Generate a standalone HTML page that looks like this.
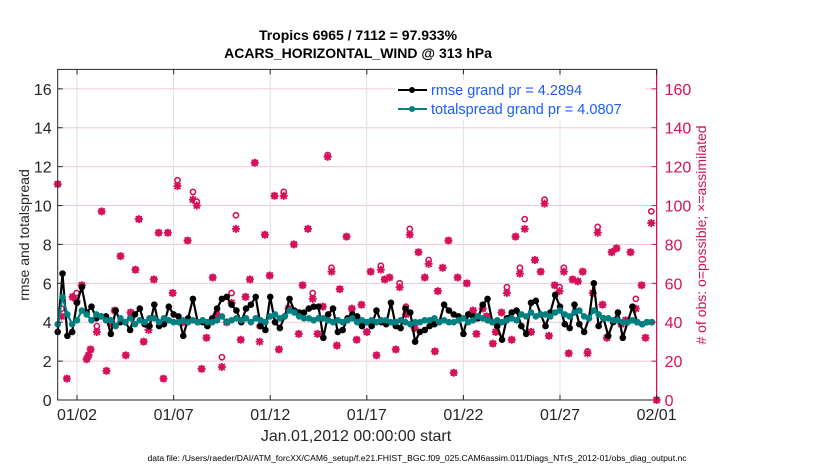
<!DOCTYPE html>
<html><head><meta charset="utf-8"><style>
body{margin:0;background:#fff;}
svg{display:block;font-family:"Liberation Sans",Arial,sans-serif;}
</style></head><body>
<svg id="chart" width="830" height="470" viewBox="0 0 830 470">
<text x="358" y="40" text-anchor="middle" font-size="14" font-weight="bold">Tropics 6965 / 7112 = 97.933%</text>
<text x="358" y="58" text-anchor="middle" font-size="14" font-weight="bold">ACARS_HORIZONTAL_WIND @ 313 hPa</text>
<g id="grid"></g>
<g id="obs"></g>
<g id="series"></g>
<rect x="57.7" y="69.4" width="598.9" height="330.6" fill="none" stroke="#262626" stroke-width="1"/>
<line x1="656.6" y1="69.4" x2="656.6" y2="400" stroke="#d6105a" stroke-width="1.2"/>
<g id="axes"></g>
<text transform="translate(29,235) rotate(-90)" text-anchor="middle" font-size="14" fill="#262626">rmse and totalspread</text>
<text transform="translate(706,235) rotate(-90)" text-anchor="middle" font-size="14" fill="#d6105a"># of obs: o=possible; ×=assimilated</text>
<text x="356" y="441" text-anchor="middle" font-size="16" fill="#262626">Jan.01,2012 00:00:00 start</text>
<text x="417" y="461" text-anchor="middle" font-size="8.6" fill="#000">data file: /Users/raeder/DAI/ATM_forcXX/CAM6_setup/f.e21.FHIST_BGC.f09_025.CAM6assim.011/Diags_NTrS_2012-01/obs_diag_output.nc</text>
<g>
<rect x="395" y="80" width="250" height="40" fill="#fff"/>
<line x1="398" y1="90" x2="427" y2="90" stroke="#000" stroke-width="2"/>
<circle cx="412" cy="90" r="3" fill="#000"/>
<text x="431" y="95" font-size="14.5" fill="#1a5cff">rmse grand pr = 4.2894</text>
<line x1="398" y1="109" x2="427" y2="109" stroke="#008080" stroke-width="2"/>
<circle cx="412" cy="109" r="3" fill="#008080"/>
<text x="431" y="114" font-size="14.5" fill="#1a5cff">totalspread grand pr = 4.0807</text>
</g>
</svg>
<script>
const rmse=[3.5,6.5,3.3,3.5,5.0,5.8,4.5,4.8,4.2,4.3,4.3,3.4,4.6,4.0,4.0,3.6,4.4,4.7,3.9,3.8,4.9,3.8,3.9,4.8,4.4,4.3,3.3,4.2,5.2,4.0,4.0,3.8,4.2,4.7,5.2,5.3,4.9,4.6,4.0,4.7,4.9,5.3,3.8,3.6,5.3,4.0,3.7,4.3,5.2,4.6,4.5,4.5,4.7,4.8,4.8,3.2,4.4,4.7,3.5,3.6,4.2,4.4,4.3,3.8,4.0,3.8,4.6,4.0,3.9,5.0,3.8,3.7,4.7,4.5,3.0,3.5,3.6,3.8,3.9,4.0,4.9,4.6,4.4,4.3,3.4,4.4,4.3,4.2,4.9,5.2,4.0,3.8,3.1,4.2,4.5,4.6,3.8,3.4,5.0,5.1,4.4,3.8,4.5,5.4,4.8,3.9,3.7,4.9,3.9,3.5,4.2,6.0,3.8,4.2,3.3,4.0,4.5,3.2,4.0,4.8,4.0,3.9,4.0,4.0];
const spread=[3.9,5.3,4.4,3.9,4.1,4.6,4.4,4.1,4.4,4.3,4.1,4.1,3.8,4.2,4.0,4.2,3.9,4.1,4.0,4.2,4.2,4.0,4.2,4.1,4.0,4.0,4.1,4.0,4.1,4.0,4.1,4.0,4.0,4.1,4.3,4.0,4.1,4.2,4.1,4.2,4.0,4.2,4.1,4.0,4.3,4.4,4.2,4.3,4.6,4.5,4.3,4.2,4.2,4.1,4.2,4.2,4.1,4.0,4.1,4.0,4.1,4.2,4.0,4.1,4.0,4.1,4.0,4.1,4.1,4.0,4.0,4.1,4.0,3.9,4.0,4.0,4.1,4.1,4.2,4.0,4.1,4.0,4.0,4.1,4.2,4.0,4.1,4.3,4.2,4.1,4.0,4.1,4.0,4.1,4.2,4.1,4.4,4.3,4.5,4.3,4.4,4.4,4.3,4.5,4.6,4.4,4.3,4.5,4.6,4.3,4.2,4.6,4.4,4.2,4.2,4.1,4.1,4.0,4.0,4.1,4.0,3.9,4.0,4.0];
const obsIdx=[0,0.8,1.9,3.1,3.9,5.0,6.0,6.4,6.8,8.1,9.1,10.1,11.2,11.8,13.0,14.1,15.1,16.1,16.8,17.8,18.8,19.9,20.9,21.9,22.8,23.8,24.8,25.9,26.9,28.0,28.8,29.8,30.8,32.1,32.9,34.0,35.0,36.0,36.9,37.9,38.9,39.8,40.8,41.8,42.9,43.9,44.9,45.8,46.8,47.8,48.9,49.9,50.7,51.8,52.8,53.8,54.9,55.9,56.7,57.8,58.4,59.8,60.9,61.9,62.9,64.0,64.8,66.0,66.9,67.7,68.7,70.0,70.8,72.1,72.9,73.9,74.7,76.0,76.8,78.1,78.7,79.7,80.9,82.0,82.8,83.9,84.7,86.0,86.7,88.0,88.8,90.1,90.7,91.9,93.0,94.0,94.8,95.7,96.7,98.0,98.8,100.0,100.8,101.7,102.9,103.9,104.8,105.8,106.6,107.7,108.7,109.7,110.8,111.8,112.8,113.7,114.7,115.7,116.7,117.6,118.6,119.7,120.9,121.7,122.9,124.0];
const obsAssim=[111,43,11,53,51,59,21,23,26,35,97,15,39,46,74,23,45,67,93,30,36,62,86,11,86,55,110,40,82,103,100,16,32,63,44,17,40,50,88,31,53,62,122,30,85,64,105,26,105,47,80,34,59,88,52,34,48,125,66,28,57,84,47,31,49,35,66,23,67,62,63,26,58,44,85,37,76,63,70,25,56,68,82,14,63,150,60,46,34,47,43,29,35,45,55,31,84,65,88,35,72,66,101,33,59,56,66,24,62,61,66,24,55,86,49,32,76,78,39,41,76,47,59,32,91,0];
const obsPoss=[111,47,11,53,55,59,21,23,26,38,97,15,39,46,74,23,45,67,93,30,40,62,86,11,86,55,113,40,82,107,102,16,32,63,44,22,40,55,95,31,53,62,122,38,85,64,105,26,107,47,80,34,59,88,55,34,48,126,68,28,57,84,47,31,49,35,66,23,69,62,63,26,60,48,88,37,76,63,72,25,56,68,82,14,63,152,60,46,34,47,43,29,35,45,58,31,84,68,93,35,72,66,103,33,59,58,68,24,62,61,66,25,55,89,49,32,76,78,39,41,76,52,59,32,97,0];
const leftTicks=[0,2,4,6,8,10,12,14,16];
const rightTicks=[0,20,40,60,80,100,120,140,160];
const dayTicks=[2,7,12,17,22,27,32];
const dayLabels=["01/02","01/07","01/12","01/17","01/22","01/27","02/01"];

const NS="http://www.w3.org/2000/svg";
const X0=57.7,X1=656.6,Y0=400,Y1=69.4;
const xDay=d=>X0+(d-1)/31*(X1-X0);
const xIdx=i=>xDay(1+i/4);
const yL=v=>Y0-v/17*(Y0-Y1);
const yR=n=>Y0-n/170*(Y0-Y1);
function mk(tag,attrs,parent){const e=document.createElementNS(NS,tag);for(const k in attrs)e.setAttribute(k,attrs[k]);parent.appendChild(e);return e;}
const grid=document.getElementById('grid'),axes=document.getElementById('axes'),obs=document.getElementById('obs'),series=document.getElementById('series');
const MAG="#d6105a";
leftTicks.forEach(v=>{
  if(v>0){const g=mk('line',{x1:X0,x2:X1,y1:yL(v),y2:yL(v),stroke:"#f4c6d6","stroke-width":1},grid);
  
  }
  const t=mk('line',{x1:X0,x2:X0+5,y1:yL(v),y2:yL(v),stroke:"#262626"},axes);
  
  
  const l=mk('text',{x:X0-6,y:yL(v)+6,"text-anchor":"end","font-size":16,fill:"#262626"},axes);
  l.textContent=v;
  
  
});
rightTicks.forEach(v=>{
  const t=mk('line',{x1:X1-5,x2:X1,y1:yR(v),y2:yR(v),stroke:MAG},axes);
  
  
  const l=mk('text',{x:X1+8,y:yR(v)+6,"font-size":16,fill:MAG},axes);
  l.textContent=v;
  
  
});
dayTicks.forEach((d,k)=>{
  const x=xDay(d);
  if(d<32){const g=mk('line',{x1:x,x2:x,y1:Y1,y2:Y0,stroke:"#e0e0e0","stroke-width":1},grid);
  
  }
  const t=mk('line',{x1:x,x2:x,y1:Y0,y2:Y0-5,stroke:"#262626"},axes);
  
  
  const t2=mk('line',{x1:x,x2:x,y1:Y1,y2:Y1+5,stroke:"#262626"},axes);
  
  
  const l=mk('text',{x:x,y:Y0+20,"text-anchor":"middle","font-size":16,fill:"#262626"},axes);
  l.textContent=dayLabels[k];
  
  
});
obsIdx.forEach((i,k)=>{
  const x=xIdx(i);
  const yp=yR(obsPoss[k]),ya=yR(obsAssim[k]);
  const c=mk('circle',{cx:x,cy:yp,r:2.6,fill:"#fff",stroke:MAG,"stroke-width":1.6},obs);
  
  
  const g=mk('g',{stroke:MAG,"stroke-width":1.8,fill:MAG},obs);
  
  
  mk('circle',{cx:x,cy:ya,r:2.8,stroke:"none"},g);
  mk('line',{x1:x-4,x2:x+4,y1:ya,y2:ya},g);
  mk('line',{x1:x,x2:x,y1:ya-4,y2:ya+4},g);
  mk('line',{x1:x-3,x2:x+3,y1:ya-3,y2:ya+3},g);
  mk('line',{x1:x-3,x2:x+3,y1:ya+3,y2:ya-3},g);
});
function drawSeries(vals,color,name){
  const p=vals.map((v,i)=>xIdx(i).toFixed(1)+","+yL(v).toFixed(1)).join(" ");
  const pl=mk('polyline',{points:p,fill:"none",stroke:color,"stroke-width":2.2,"stroke-linejoin":"round"},series);
  
  
  vals.forEach((v,i)=>{
    const c=mk('circle',{cx:xIdx(i),cy:yL(v),r:3.3,fill:color},series);
    
    
  });
}
drawSeries(rmse,"#000","rmse");
drawSeries(spread,"#008080","spread");
</script>
</body></html>
